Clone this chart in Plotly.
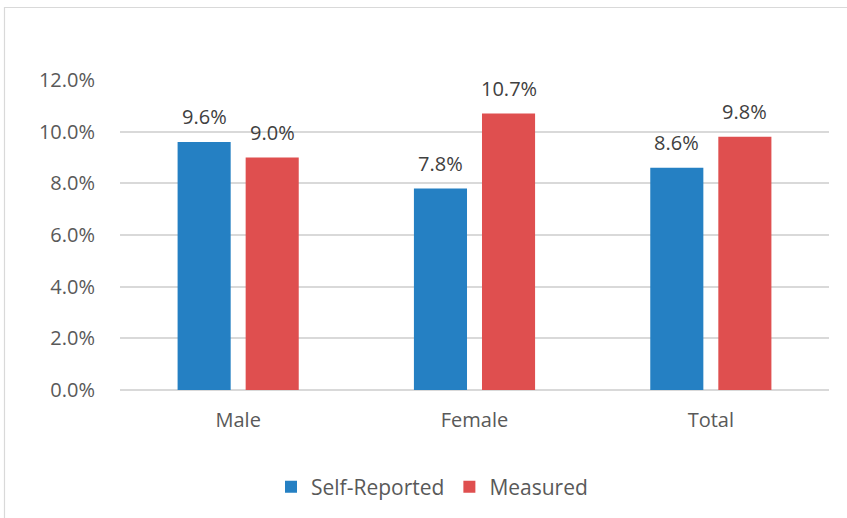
import plotly.graph_objects as go

categories = ["Male", "Female", "Total"]
self_reported = [0.096, 0.078, 0.086]
measured = [0.090, 0.107, 0.098]
series_names = ["Self-Reported", "Measured"]
tick_vals = [0.0, 0.02, 0.04, 0.06, 0.08, 0.10, 0.12]

W, H = 847, 518
L, R, T = 120, 18, 80
B = H - 390
pw, ph = W - L - R, H - T - B

font_fam = "Open Sans, Noto Sans, sans-serif"
text_col = "#595959"
colors = ["#2580C3", "#DF4F4F"]

fig = go.Figure()
for name, vals, col in [(series_names[0], self_reported, colors[0]),
                        (series_names[1], measured, colors[1])]:
    fig.add_trace(go.Bar(
        x=categories, y=vals, name=name,
        marker=dict(color=col, line=dict(width=0)),
    ))

# data labels above bars
for vals, xs in [(self_reported, -34), (measured, 34)]:
    for c, v in zip(categories, vals):
        fig.add_annotation(x=c, y=v, text=f"{v*100:.1f}%", showarrow=False,
                           xshift=xs, yshift=10, yanchor="bottom",
                           font=dict(size=20, color="#404040", family=font_fam))

fig.update_layout(
    width=W, height=H,
    margin=dict(l=L, r=R, t=T, b=B, autoexpand=False),
    paper_bgcolor="white", plot_bgcolor="white",
    barmode="group", bargap=0.424, bargroupgap=0.22,
    font=dict(family=font_fam, color=text_col, size=20),
    showlegend=True,
    legend=dict(orientation="h", x=(432 - L) / pw, xanchor="center",
                y=-(487 - 390) / ph, yanchor="middle",
                font=dict(size=21, color=text_col), itemwidth=30,
                traceorder="normal"),
)
fig.update_yaxes(range=[0, 0.12], tickvals=tick_vals, tickformat=".1%",
                 showgrid=True, gridcolor="#D9D9D9", gridwidth=1.5,
                 zeroline=True, zerolinecolor="#D9D9D9", zerolinewidth=1.5,
                 ticks="", ticklabelstandoff=24,
                 tickfont=dict(size=20, color=text_col))
fig.update_xaxes(showline=False, ticks="", ticklabelstandoff=16,
                 tickfont=dict(size=20, color=text_col))

# chart-area border (top and left visible)
fig.add_shape(type="rect", xref="paper", yref="paper",
              x0=(4.5 - L) / pw, x1=(W + 10 - L) / pw,
              y0=-(H + 10 - T - ph) / ph, y1=1 + (T - 7.5) / ph,
              line=dict(color="#D9D9D9", width=1.2), fillcolor="rgba(0,0,0,0)",
              layer="below")

fig.write_html("out.html", config={"displayModeBar": False},
               post_script="document.body.style.margin='0';"
                           "document.body.style.overflow='hidden';")
